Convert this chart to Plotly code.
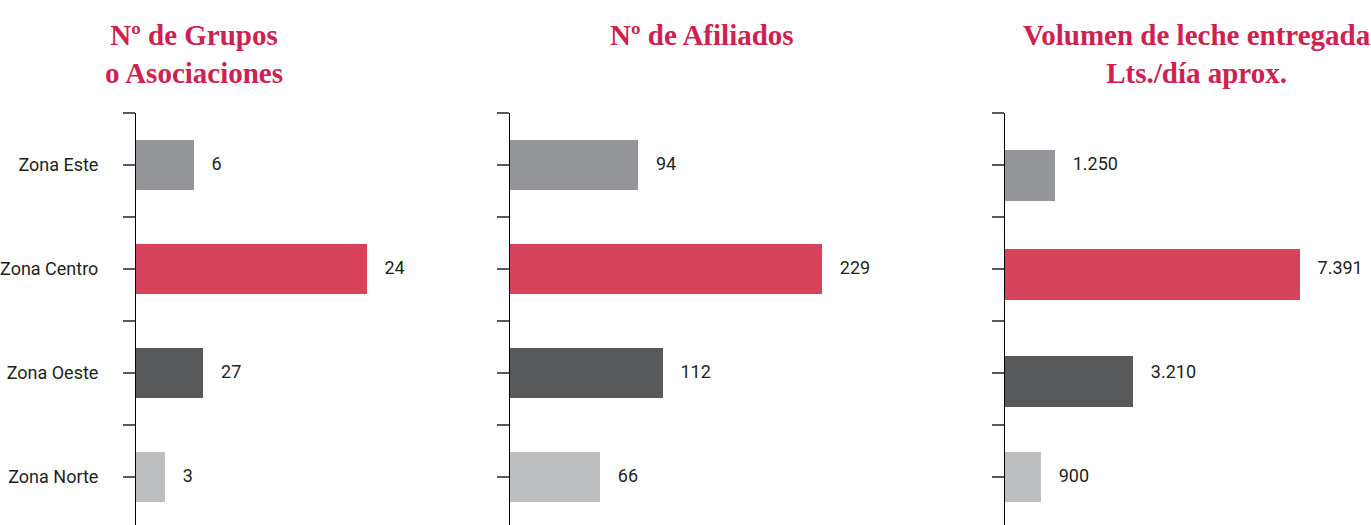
import plotly.graph_objects as go

# zonas (de arriba hacia abajo)
zonas = ["Zona Este", "Zona Centro", "Zona Oeste", "Zona Norte"]
colores = ["#939598", "#d6435a", "#58595b", "#bcbec0"]

# Nº de Grupos o Asociaciones
# (en el original la barra de Zona Oeste mide ~7 aunque la etiqueta dice 27)
grupos_barra = [6, 24, 7, 3]
grupos_etiqueta = ["6", "24", "27", "3"]

# Nº de Afiliados
afiliados = [94, 229, 112, 66]

# Volumen de leche entregada, Lts./día aprox.
volumen = [1250, 7391, 3210, 900]

titulos = [
    "Nº de Grupos<br>o Asociaciones",
    "Nº de Afiliados",
    "Volumen de leche entregada<br>Lts./día aprox.",
]


def miles(v):
    return f"{v:,}".replace(",", ".")


W, H = 1371, 525
TITLE_RED = "#cf2150"
SANS = "Roboto, Open Sans, sans-serif"
SERIF = "Liberation Serif, serif"


def px_x(p):
    return p / W


def px_y(p):
    return 1 - p / H


# paneles: (borde izq. en px, borde der. en px, max rango x)
paneles = [
    (136, 480, 35.8),
    (510, 980, 345.0),
    (1005, 1371, 9180),
]

series = [
    (grupos_barra, grupos_etiqueta, None),
    (afiliados, [miles(v) for v in afiliados], None),
    (volumen, [miles(v) for v in volumen], [-0.14, -0.19, -0.16, -0.245]),
]

pos = list(range(len(zonas)))
tickvals = []
ticktext = []
for i, z in enumerate(zonas):
    tickvals += [i - 0.5, i]
    ticktext += ["", z]

fig = go.Figure()

y_top_px = 113
y_dom = [0, px_y(y_top_px)]
y_range = [-0.5 + (H - y_top_px) / 104.0, -0.5]

for k, ((x0, x1, xmax), (vals, labels, offs)) in enumerate(zip(paneles, series)):
    n = "" if k == 0 else str(k + 1)
    xa, ya = "x" + n, "y" + n
    fig.add_trace(go.Bar(
        x=vals, y=pos, orientation="h",
        marker=dict(color=colores, line=dict(width=0)),
        width=0.49, offset=offs,
        xaxis=xa, yaxis=ya, hoverinfo="skip", showlegend=False,
    ))
    fig.add_trace(go.Scatter(
        x=vals, y=pos, mode="text",
        text=["    " + t for t in labels],
        textposition="middle right",
        textfont=dict(family=SANS, size=18, color="#231f20"),
        cliponaxis=False,
        xaxis=xa, yaxis=ya, hoverinfo="skip", showlegend=False,
    ))
    fig.update_layout(**{
        "xaxis" + n: dict(domain=[px_x(x0), min(px_x(x1), 1)], range=[0, xmax],
                          visible=False, fixedrange=True),
        "yaxis" + n: dict(domain=y_dom, range=y_range, anchor=xa,
                          tickmode="array", tickvals=tickvals,
                          ticktext=ticktext if k == 0 else [""] * len(tickvals),
                          showticklabels=(k == 0),
                          ticks="outside", ticklen=12, tickwidth=1.5,
                          tickcolor="#58595b",
                          showline=True, linecolor="#000000", linewidth=1,
                          showgrid=False, zeroline=False,
                          ticklabelstandoff=21,
                          tickfont=dict(family=SANS, size=18, color="#231f20")),
    })

centros = [194, 702, 1197]
for cx, t in zip(centros, titulos):
    fig.add_annotation(
        text="<b>" + t + "</b>", x=px_x(cx), y=px_y(17),
        xref="paper", yref="paper", xanchor="center", yanchor="top",
        showarrow=False, align="center",
        font=dict(family=SERIF, size=29, color=TITLE_RED),
    )

fig.update_layout(
    width=W, height=H,
    margin=dict(l=0, r=0, t=0, b=0),
    paper_bgcolor="white", plot_bgcolor="white",
    bargap=0,
)

# sin margen en el body para que el grafico ocupe toda la ventana
fig.write_html("out.html",
               config={"displayModeBar": False},
               post_script="document.body.style.margin='0';"
                           "document.body.style.overflow='hidden';")
